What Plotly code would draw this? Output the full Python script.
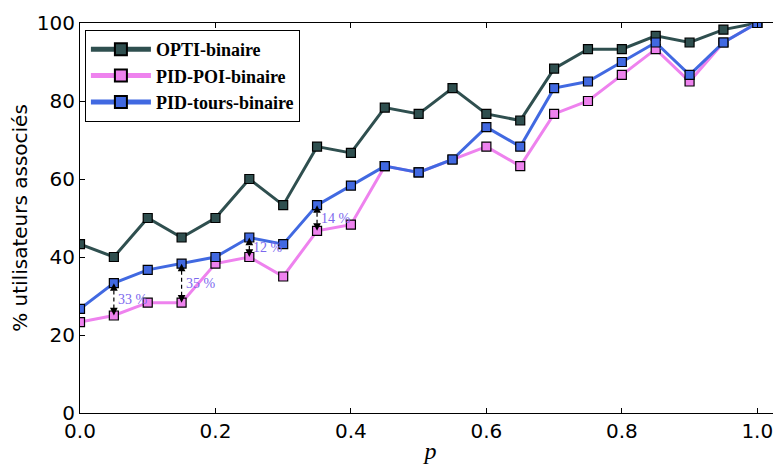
import plotly.graph_objects as go

p = [0.0, 0.05, 0.1, 0.15, 0.2, 0.25, 0.3, 0.35, 0.4, 0.45, 0.5,
     0.55, 0.6, 0.65, 0.7, 0.75, 0.8, 0.85, 0.9, 0.95, 1.0]

opti = [43.3, 40.0, 50.0, 45.0, 50.0, 60.0, 53.3, 68.3, 66.7, 78.3, 76.7,
        83.3, 76.7, 75.0, 88.3, 93.3, 93.3, 96.7, 95.0, 98.3, 100.0]
pid_poi = [23.3, 25.0, 28.3, 28.3, 38.3, 40.0, 35.0, 46.7, 48.3, 63.3, 61.7,
           65.0, 68.3, 63.3, 76.7, 80.0, 86.7, 93.3, 85.0, 95.0, 100.0]
pid_tours = [26.7, 33.3, 36.7, 38.3, 40.0, 45.0, 43.3, 53.3, 58.3, 63.3, 61.7,
             65.0, 73.3, 68.3, 83.3, 85.0, 90.0, 95.0, 86.7, 95.0, 100.0]

series_names = ["OPTI-binaire", "PID-POI-binaire", "PID-tours-binaire"]
series_colors = ["#2F4F4F", "#EE82EE", "#4169E1"]

gap_p = [0.05, 0.15, 0.25, 0.35]
gap_labels = ["33 %", "35 %", "12 %", "14 %"]

x_ticks = [0.0, 0.2, 0.4, 0.6, 0.8, 1.0]
x_tick_labels = ["0.0", "0.2", "0.4", "0.6", "0.8", "1.0"]
y_ticks = [0, 20, 40, 60, 80, 100]

fig = go.Figure()

annotations = []
for gp, lab in zip(gap_p, gap_labels):
    i = p.index(gp)
    lo, hi = pid_poi[i], pid_tours[i]
    fig.add_trace(go.Scatter(
        x=[gp, gp], y=[lo, hi], mode="lines", showlegend=False,
        line=dict(color="black", width=1.2, dash="4px,3px"), hoverinfo="skip",
    ))
    for end, start in [(hi, hi - 1.8), (lo, lo + 1.8)]:
        annotations.append(dict(
            x=gp, y=end, ax=gp, ay=start, xref="x", yref="y",
            axref="x", ayref="y", text="", showarrow=True,
            arrowhead=2, arrowsize=1.4, arrowwidth=1.1, arrowcolor="black",
        ))
    annotations.append(dict(
        x=gp, y=(lo + hi) / 2, xref="x", yref="y", text=lab, showarrow=False,
        xanchor="left", yanchor="middle", xshift=2,
        font=dict(family="Liberation Serif, DejaVu Serif, serif", size=14,
                  color="#7B68EE"),
    ))

for name, vals, col in zip(series_names, [opti, pid_poi, pid_tours], series_colors):
    fig.add_trace(go.Scatter(
        x=p, y=vals, name="<b>" + name + "</b>", mode="lines+markers",
        line=dict(color=col, width=3),
        marker=dict(symbol="square", size=9, color=col,
                    line=dict(color="black", width=1.2)),
    ))

axis_common = dict(
    showline=True, linecolor="black", linewidth=1, mirror="ticks",
    ticks="inside", ticklen=5, tickcolor="black", showgrid=False, zeroline=False,
    automargin=False,
    tickfont=dict(family="DejaVu Sans, sans-serif", size=20, color="black"),
)

# page body has an 8px default margin, so the figure is sized/offset accordingly
fig.update_layout(
    width=773, height=457,
    margin=dict(l=72, r=0, t=15, b=52),
    paper_bgcolor="white", plot_bgcolor="white",
    showlegend=True,
    legend=dict(
        x=0.007, y=0.982, xanchor="left", yanchor="top",
        bgcolor="white", bordercolor="black", borderwidth=1,
        font=dict(family="Liberation Serif, DejaVu Serif, serif", size=18, color="black"),
        itemsizing="constant", itemwidth=60, tracegroupgap=0, traceorder="normal",
    ),
    annotations=annotations,
    xaxis=dict(range=[0, 1.035], tickvals=x_ticks, ticktext=x_tick_labels,
               title=dict(text="<i>p</i>", standoff=0,
                          font=dict(family="Liberation Serif, DejaVu Serif, serif",
                                    size=24, color="black")),
               **axis_common),
    yaxis=dict(range=[0, 100], tickvals=y_ticks,
               title=dict(text="% utilisateurs associés", standoff=8,
                          font=dict(family="DejaVu Sans, sans-serif", size=20,
                                    color="black")),
               **axis_common),
)

fig.write_html("out.html")
